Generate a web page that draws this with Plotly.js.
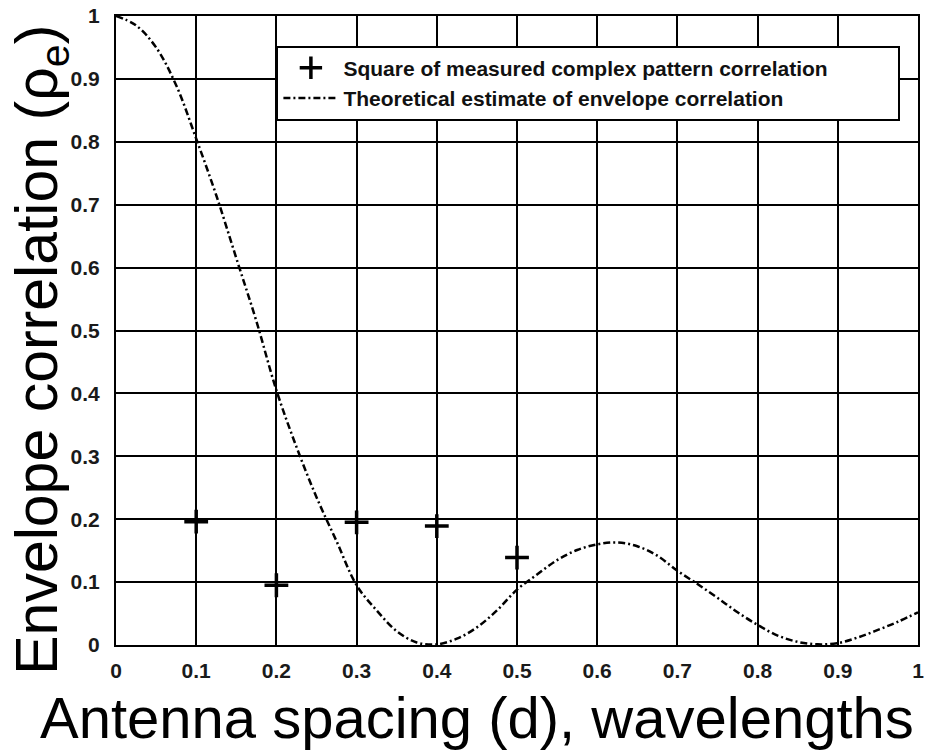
<!DOCTYPE html>
<html>
<head>
<meta charset="utf-8">
<script src="https://cdn.plot.ly/plotly-3.0.1.min.js"></script>
<style>
  html, body { margin: 0; padding: 0; background: #ffffff; }
  #chart { width: 939px; height: 751px; }
</style>
</head>
<body>
<div id="chart"></div>
<script>
// Measured points: square of measured complex pattern correlation
const measuredSpacing = [0.1, 0.2, 0.3, 0.4, 0.5];
const measuredCorr = [0.196, 0.095, 0.195, 0.189, 0.139];

// Theoretical estimate of envelope correlation
const theorySpacing = [0, 0.025, 0.05, 0.075, 0.1, 0.125, 0.15, 0.175, 0.2, 0.225,
  0.25, 0.275, 0.3, 0.325, 0.35, 0.375, 0.4, 0.425, 0.45, 0.475,
  0.5, 0.525, 0.55, 0.575, 0.6, 0.625, 0.65, 0.675, 0.7, 0.725,
  0.75, 0.775, 0.8, 0.825, 0.85, 0.875, 0.9, 0.925, 0.95, 0.975, 1.0];
const theoryCorr = [1.0, 0.985, 0.95, 0.89, 0.805, 0.715, 0.615, 0.515, 0.405, 0.315,
  0.235, 0.165, 0.095, 0.055, 0.022, 0.004, 0.001, 0.01, 0.028, 0.055,
  0.088, 0.112, 0.135, 0.151, 0.16, 0.163, 0.157, 0.142, 0.118, 0.097,
  0.075, 0.052, 0.032, 0.015, 0.005, 0.001, 0.003, 0.012, 0.024, 0.037, 0.052];

const xTickVals = [0, 0.1, 0.2, 0.3, 0.4, 0.5, 0.6, 0.7, 0.8, 0.9, 1];
const xTickText = ['0', '0.1', '0.2', '0.3', '0.4', '0.5', '0.6', '0.7', '0.8', '0.9', '1'];
const yTickVals = [0, 0.1, 0.2, 0.3, 0.4, 0.5, 0.6, 0.7, 0.8, 0.9, 1];
const yTickText = ['0', '0.1', '0.2', '0.3', '0.4', '0.5', '0.6', '0.7', '0.8', '0.9', '1'];

const legendMeasured = 'Square of measured complex pattern correlation';
const legendTheory = 'Theoretical estimate of envelope correlation';
const xTitle = 'Antenna spacing (d), wavelengths';
const yTitle = 'Envelope correlation (ρ<sub>e</sub>)';

const FONT = 'Liberation Sans, Arial, Helvetica, sans-serif';

const traces = [
  {
    x: measuredSpacing, y: measuredCorr,
    type: 'scatter', mode: 'markers',
    name: legendMeasured,
    marker: { symbol: 'cross-thin', size: 17, color: '#000', line: { color: '#000', width: 3.5 } },
    cliponaxis: false
  },
  {
    x: theorySpacing, y: theoryCorr,
    type: 'scatter', mode: 'lines',
    name: legendTheory,
    line: { color: '#000', width: 2.5, dash: '7px,3px,2px,3px', shape: 'spline' }
  }
];

const axisCommon = {
  showgrid: true, gridcolor: '#000', gridwidth: 2,
  showline: true, linecolor: '#000', linewidth: 2, mirror: true,
  zeroline: false, ticks: '',
  tickfont: { family: FONT, size: 21, color: '#1a1a1a', weight: 'bold' },
  tickmode: 'array'
};

const layout = {
  width: 939, height: 751,
  paper_bgcolor: '#fff', plot_bgcolor: '#fff',
  margin: { l: 116, r: 21, t: 16, b: 106 },
  showlegend: true,
  legend: {
    orientation: 'h',
    x: 0.2, y: 0.953, xanchor: 'left', yanchor: 'top',
    bgcolor: '#fff', bordercolor: '#000', borderwidth: 2,
    font: { family: FONT, size: 21, color: '#111', weight: 'bold' },
    entrywidth: 550, entrywidthmode: 'pixels',
    itemwidth: 55,
    tracegroupgap: 0
  },
  xaxis: Object.assign({}, axisCommon, {
    range: [0, 1],
    tickvals: xTickVals, ticktext: xTickText,
    ticklabelstandoff: 6
  }),
  yaxis: Object.assign({}, axisCommon, {
    range: [0, 1],
    tickvals: yTickVals, ticktext: yTickText,
    ticklabelstandoff: 10
  }),
  annotations: [
    {
      text: xTitle, xref: 'paper', yref: 'paper',
      x: 0.45, y: -0.1147, xanchor: 'center', yanchor: 'middle',
      showarrow: false,
      font: { family: FONT, size: 58, color: '#000' }
    },
    {
      text: yTitle, xref: 'paper', yref: 'paper',
      x: -0.093, y: 0.47, xanchor: 'center', yanchor: 'middle',
      textangle: -90, showarrow: false,
      font: { family: FONT, size: 59, color: '#000' }
    }
  ]
};

Plotly.newPlot('chart', traces, layout, { displayModeBar: false, staticPlot: true });
</script>
</body>
</html>
